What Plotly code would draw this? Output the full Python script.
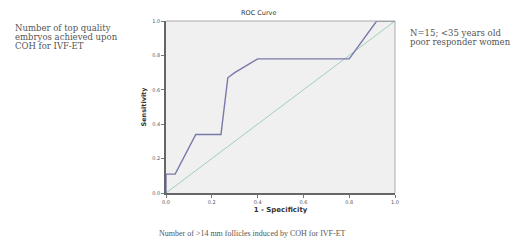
import plotly.graph_objects as go

roc_fpr = [0.0, 0.0, 0.04, 0.13, 0.24, 0.27, 0.30, 0.40, 0.80, 0.92, 1.0]
roc_tpr = [0.0, 0.11, 0.11, 0.34, 0.34, 0.67, 0.70, 0.78, 0.78, 1.0, 1.0]
ref_x = [0.0, 1.0]
ref_y = [0.0, 1.0]
tick_vals = [0.0, 0.2, 0.4, 0.6, 0.8, 1.0]
tick_text = ["0.0", "0.2", "0.4", "0.6", "0.8", "1.0"]
left_lines = ["Number of top quality", "embryos achieved upon", "COH for IVF-ET"]
right_lines = ["N=15; <35 years old", "poor responder women"]
caption = "Number of >14 mm follicles induced by COH for IVF-ET"

fig = go.Figure()
fig.add_trace(go.Scatter(x=ref_x, y=ref_y, mode="lines",
                         line=dict(color="#9fcfb8", width=1), hoverinfo="skip"))
fig.add_trace(go.Scatter(x=roc_fpr, y=roc_tpr, mode="lines",
                         line=dict(color="#7878aa", width=1.4), hoverinfo="skip"))

axis_common = dict(range=[0, 1], tickvals=tick_vals, ticktext=tick_text,
                   ticks="outside", ticklen=3, tickcolor="#777", tickwidth=1,
                   showgrid=False, zeroline=False, showline=True,
                   linecolor="#666", linewidth=1.5,
                   tickfont=dict(family="DejaVu Sans", size=5, color="#555"))
fig.update_xaxes(**axis_common, title=dict(text="<b>1 - Specificity</b>",
                 font=dict(family="DejaVu Sans", size=7, color="#333"), standoff=3))
fig.update_yaxes(**axis_common, title=dict(text="<b>Sensitivity</b>",
                 font=dict(family="DejaVu Sans", size=6.5, color="#333"), standoff=5))

# light top/right border
fig.add_shape(type="line", xref="paper", yref="paper", x0=0, y0=1, x1=1, y1=1,
              line=dict(color="#aaaaaa", width=1))
fig.add_shape(type="line", xref="paper", yref="paper", x0=1, y0=0, x1=1, y1=1,
              line=dict(color="#aaaaaa", width=1))

serif = "DejaVu Serif"
for i, t in enumerate(left_lines):
    fig.add_annotation(text=t, xref="paper", yref="paper", x=-0.668, y=0.96 - i * 0.052,
                       xanchor="left", yanchor="middle", showarrow=False,
                       font=dict(family=serif, size=8.5, color="#555"))
for i, t in enumerate(right_lines):
    fig.add_annotation(text=t, xref="paper", yref="paper", x=1.057, y=0.931 - i * 0.052,
                       xanchor="left", yanchor="middle", showarrow=False,
                       font=dict(family=serif, size=8.5, color="#555"))
fig.add_annotation(text=caption, xref="paper", yref="paper", x=0.376, y=-0.234,
                   xanchor="center", yanchor="middle", showarrow=False,
                   font=dict(family="Liberation Serif", size=8, color="#555"))
fig.add_annotation(text="ROC Curve", xref="paper", yref="paper", x=0.405, y=1.0,
                   xanchor="center", yanchor="bottom", showarrow=False, yshift=2,
                   font=dict(family="DejaVu Sans", size=6.5, color="#333"))

# page body has an 8px default margin; compensate in size and margins
fig.update_layout(width=513, height=235, showlegend=False,
                  margin=dict(l=158, r=126, t=10, b=50),
                  plot_bgcolor="#f0f0f0", paper_bgcolor="white")
fig.write_html("out.html")
